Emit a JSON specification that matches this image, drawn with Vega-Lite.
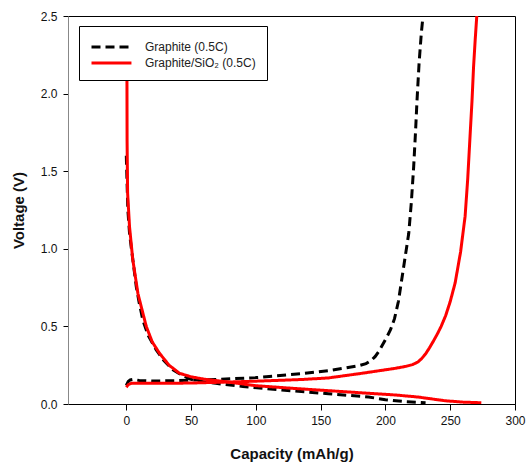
{
  "$schema": "https://vega.github.io/schema/vega-lite/v6.json",
  "autosize": "none",
  "width": 447,
  "height": 388,
  "padding": {"left": 68, "top": 16, "right": 17, "bottom": 68},
  "background": "white",
  "config": {
    "font": "Liberation Sans",
    "view": {"stroke": "black", "strokeWidth": 1},
    "axis": {"grid": false, "labelFlush": false, "labelFont": "Liberation Sans", "labelFontSize": 12, "labelColor": "#111", "titleFont": "Liberation Sans", "titleFontSize": 15, "titleFontWeight": "bold", "titleColor": "#111", "tickColor": "black", "domainColor": "black"}
  },
  "data": {
    "values": [
      {"s": "Graphite (0.5C)", "seg": "d", "i": 0, "cap": 0, "v": 1.6},
      {"s": "Graphite (0.5C)", "seg": "d", "i": 1, "cap": 0.5, "v": 1.45},
      {"s": "Graphite (0.5C)", "seg": "d", "i": 2, "cap": 1.2, "v": 1.25},
      {"s": "Graphite (0.5C)", "seg": "d", "i": 3, "cap": 2.5, "v": 1.1},
      {"s": "Graphite (0.5C)", "seg": "d", "i": 4, "cap": 3.8, "v": 1.01},
      {"s": "Graphite (0.5C)", "seg": "d", "i": 5, "cap": 5.5, "v": 0.9},
      {"s": "Graphite (0.5C)", "seg": "d", "i": 6, "cap": 7.7, "v": 0.756},
      {"s": "Graphite (0.5C)", "seg": "d", "i": 7, "cap": 10, "v": 0.65},
      {"s": "Graphite (0.5C)", "seg": "d", "i": 8, "cap": 12.8, "v": 0.54},
      {"s": "Graphite (0.5C)", "seg": "d", "i": 9, "cap": 17, "v": 0.44},
      {"s": "Graphite (0.5C)", "seg": "d", "i": 10, "cap": 23, "v": 0.35},
      {"s": "Graphite (0.5C)", "seg": "d", "i": 11, "cap": 29, "v": 0.28},
      {"s": "Graphite (0.5C)", "seg": "d", "i": 12, "cap": 36, "v": 0.22},
      {"s": "Graphite (0.5C)", "seg": "d", "i": 13, "cap": 42, "v": 0.19},
      {"s": "Graphite (0.5C)", "seg": "d", "i": 14, "cap": 48.7, "v": 0.162},
      {"s": "Graphite (0.5C)", "seg": "d", "i": 15, "cap": 55, "v": 0.148},
      {"s": "Graphite (0.5C)", "seg": "d", "i": 16, "cap": 69, "v": 0.133},
      {"s": "Graphite (0.5C)", "seg": "d", "i": 17, "cap": 90, "v": 0.113},
      {"s": "Graphite (0.5C)", "seg": "d", "i": 18, "cap": 120, "v": 0.09},
      {"s": "Graphite (0.5C)", "seg": "d", "i": 19, "cap": 156, "v": 0.066},
      {"s": "Graphite (0.5C)", "seg": "d", "i": 20, "cap": 187, "v": 0.045},
      {"s": "Graphite (0.5C)", "seg": "d", "i": 21, "cap": 200, "v": 0.028},
      {"s": "Graphite (0.5C)", "seg": "d", "i": 22, "cap": 215, "v": 0.015},
      {"s": "Graphite (0.5C)", "seg": "d", "i": 23, "cap": 231, "v": 0.008},
      {"s": "Graphite (0.5C)", "seg": "c", "i": 0, "cap": 0, "v": 0.12},
      {"s": "Graphite (0.5C)", "seg": "c", "i": 1, "cap": 1.5, "v": 0.145},
      {"s": "Graphite (0.5C)", "seg": "c", "i": 2, "cap": 3, "v": 0.155},
      {"s": "Graphite (0.5C)", "seg": "c", "i": 3, "cap": 5, "v": 0.158},
      {"s": "Graphite (0.5C)", "seg": "c", "i": 4, "cap": 10, "v": 0.152},
      {"s": "Graphite (0.5C)", "seg": "c", "i": 5, "cap": 20, "v": 0.148},
      {"s": "Graphite (0.5C)", "seg": "c", "i": 6, "cap": 38, "v": 0.15},
      {"s": "Graphite (0.5C)", "seg": "c", "i": 7, "cap": 55, "v": 0.155},
      {"s": "Graphite (0.5C)", "seg": "c", "i": 8, "cap": 72, "v": 0.159},
      {"s": "Graphite (0.5C)", "seg": "c", "i": 9, "cap": 100, "v": 0.17},
      {"s": "Graphite (0.5C)", "seg": "c", "i": 10, "cap": 136, "v": 0.196},
      {"s": "Graphite (0.5C)", "seg": "c", "i": 11, "cap": 156, "v": 0.215},
      {"s": "Graphite (0.5C)", "seg": "c", "i": 12, "cap": 170, "v": 0.233},
      {"s": "Graphite (0.5C)", "seg": "c", "i": 13, "cap": 180, "v": 0.248},
      {"s": "Graphite (0.5C)", "seg": "c", "i": 14, "cap": 185, "v": 0.26},
      {"s": "Graphite (0.5C)", "seg": "c", "i": 15, "cap": 189, "v": 0.28},
      {"s": "Graphite (0.5C)", "seg": "c", "i": 16, "cap": 192, "v": 0.305},
      {"s": "Graphite (0.5C)", "seg": "c", "i": 17, "cap": 195, "v": 0.34},
      {"s": "Graphite (0.5C)", "seg": "c", "i": 18, "cap": 198, "v": 0.385},
      {"s": "Graphite (0.5C)", "seg": "c", "i": 19, "cap": 201, "v": 0.43},
      {"s": "Graphite (0.5C)", "seg": "c", "i": 20, "cap": 204, "v": 0.48},
      {"s": "Graphite (0.5C)", "seg": "c", "i": 21, "cap": 207, "v": 0.55},
      {"s": "Graphite (0.5C)", "seg": "c", "i": 22, "cap": 210, "v": 0.66},
      {"s": "Graphite (0.5C)", "seg": "c", "i": 23, "cap": 214, "v": 0.88},
      {"s": "Graphite (0.5C)", "seg": "c", "i": 24, "cap": 218, "v": 1.1},
      {"s": "Graphite (0.5C)", "seg": "c", "i": 25, "cap": 220, "v": 1.3},
      {"s": "Graphite (0.5C)", "seg": "c", "i": 26, "cap": 221.8, "v": 1.53},
      {"s": "Graphite (0.5C)", "seg": "c", "i": 27, "cap": 223.2, "v": 1.75},
      {"s": "Graphite (0.5C)", "seg": "c", "i": 28, "cap": 224.4, "v": 1.96},
      {"s": "Graphite (0.5C)", "seg": "c", "i": 29, "cap": 226, "v": 2.2},
      {"s": "Graphite (0.5C)", "seg": "c", "i": 30, "cap": 227.7, "v": 2.39},
      {"s": "Graphite (0.5C)", "seg": "c", "i": 31, "cap": 229, "v": 2.5},
      {"s": "Graphite/SiO₂ (0.5C)", "seg": "d", "i": 0, "cap": 0.5, "v": 2.1},
      {"s": "Graphite/SiO₂ (0.5C)", "seg": "d", "i": 1, "cap": 0.6, "v": 1.7},
      {"s": "Graphite/SiO₂ (0.5C)", "seg": "d", "i": 2, "cap": 1.0, "v": 1.36},
      {"s": "Graphite/SiO₂ (0.5C)", "seg": "d", "i": 3, "cap": 2.5, "v": 1.14},
      {"s": "Graphite/SiO₂ (0.5C)", "seg": "d", "i": 4, "cap": 5, "v": 0.93},
      {"s": "Graphite/SiO₂ (0.5C)", "seg": "d", "i": 5, "cap": 9, "v": 0.71},
      {"s": "Graphite/SiO₂ (0.5C)", "seg": "d", "i": 6, "cap": 15.4, "v": 0.5},
      {"s": "Graphite/SiO₂ (0.5C)", "seg": "d", "i": 7, "cap": 20, "v": 0.4},
      {"s": "Graphite/SiO₂ (0.5C)", "seg": "d", "i": 8, "cap": 25.6, "v": 0.327},
      {"s": "Graphite/SiO₂ (0.5C)", "seg": "d", "i": 9, "cap": 33, "v": 0.25},
      {"s": "Graphite/SiO₂ (0.5C)", "seg": "d", "i": 10, "cap": 41, "v": 0.198},
      {"s": "Graphite/SiO₂ (0.5C)", "seg": "d", "i": 11, "cap": 50, "v": 0.175},
      {"s": "Graphite/SiO₂ (0.5C)", "seg": "d", "i": 12, "cap": 60, "v": 0.16},
      {"s": "Graphite/SiO₂ (0.5C)", "seg": "d", "i": 13, "cap": 75, "v": 0.145},
      {"s": "Graphite/SiO₂ (0.5C)", "seg": "d", "i": 14, "cap": 100, "v": 0.118},
      {"s": "Graphite/SiO₂ (0.5C)", "seg": "d", "i": 15, "cap": 130, "v": 0.1},
      {"s": "Graphite/SiO₂ (0.5C)", "seg": "d", "i": 16, "cap": 156, "v": 0.086},
      {"s": "Graphite/SiO₂ (0.5C)", "seg": "d", "i": 17, "cap": 187, "v": 0.069},
      {"s": "Graphite/SiO₂ (0.5C)", "seg": "d", "i": 18, "cap": 207.7, "v": 0.058},
      {"s": "Graphite/SiO₂ (0.5C)", "seg": "d", "i": 19, "cap": 225, "v": 0.045},
      {"s": "Graphite/SiO₂ (0.5C)", "seg": "d", "i": 20, "cap": 246, "v": 0.021},
      {"s": "Graphite/SiO₂ (0.5C)", "seg": "d", "i": 21, "cap": 260, "v": 0.012},
      {"s": "Graphite/SiO₂ (0.5C)", "seg": "d", "i": 22, "cap": 274, "v": 0.008},
      {"s": "Graphite/SiO₂ (0.5C)", "seg": "c", "i": 0, "cap": 0, "v": 0.108},
      {"s": "Graphite/SiO₂ (0.5C)", "seg": "c", "i": 1, "cap": 1.5, "v": 0.125},
      {"s": "Graphite/SiO₂ (0.5C)", "seg": "c", "i": 2, "cap": 3.8, "v": 0.133},
      {"s": "Graphite/SiO₂ (0.5C)", "seg": "c", "i": 3, "cap": 10, "v": 0.133},
      {"s": "Graphite/SiO₂ (0.5C)", "seg": "c", "i": 4, "cap": 25, "v": 0.133},
      {"s": "Graphite/SiO₂ (0.5C)", "seg": "c", "i": 5, "cap": 50, "v": 0.135},
      {"s": "Graphite/SiO₂ (0.5C)", "seg": "c", "i": 6, "cap": 72, "v": 0.14},
      {"s": "Graphite/SiO₂ (0.5C)", "seg": "c", "i": 7, "cap": 100, "v": 0.147},
      {"s": "Graphite/SiO₂ (0.5C)", "seg": "c", "i": 8, "cap": 136, "v": 0.158},
      {"s": "Graphite/SiO₂ (0.5C)", "seg": "c", "i": 9, "cap": 156, "v": 0.168},
      {"s": "Graphite/SiO₂ (0.5C)", "seg": "c", "i": 10, "cap": 182, "v": 0.198},
      {"s": "Graphite/SiO₂ (0.5C)", "seg": "c", "i": 11, "cap": 207.7, "v": 0.23},
      {"s": "Graphite/SiO₂ (0.5C)", "seg": "c", "i": 12, "cap": 216, "v": 0.243},
      {"s": "Graphite/SiO₂ (0.5C)", "seg": "c", "i": 13, "cap": 221, "v": 0.254},
      {"s": "Graphite/SiO₂ (0.5C)", "seg": "c", "i": 14, "cap": 225, "v": 0.27},
      {"s": "Graphite/SiO₂ (0.5C)", "seg": "c", "i": 15, "cap": 228, "v": 0.293},
      {"s": "Graphite/SiO₂ (0.5C)", "seg": "c", "i": 16, "cap": 231, "v": 0.323},
      {"s": "Graphite/SiO₂ (0.5C)", "seg": "c", "i": 17, "cap": 234, "v": 0.362},
      {"s": "Graphite/SiO₂ (0.5C)", "seg": "c", "i": 18, "cap": 237, "v": 0.405},
      {"s": "Graphite/SiO₂ (0.5C)", "seg": "c", "i": 19, "cap": 240, "v": 0.45},
      {"s": "Graphite/SiO₂ (0.5C)", "seg": "c", "i": 20, "cap": 243, "v": 0.5},
      {"s": "Graphite/SiO₂ (0.5C)", "seg": "c", "i": 21, "cap": 246.5, "v": 0.57},
      {"s": "Graphite/SiO₂ (0.5C)", "seg": "c", "i": 22, "cap": 250, "v": 0.66},
      {"s": "Graphite/SiO₂ (0.5C)", "seg": "c", "i": 23, "cap": 253.8, "v": 0.78},
      {"s": "Graphite/SiO₂ (0.5C)", "seg": "c", "i": 24, "cap": 258, "v": 0.98},
      {"s": "Graphite/SiO₂ (0.5C)", "seg": "c", "i": 25, "cap": 261.5, "v": 1.21},
      {"s": "Graphite/SiO₂ (0.5C)", "seg": "c", "i": 26, "cap": 263.5, "v": 1.45},
      {"s": "Graphite/SiO₂ (0.5C)", "seg": "c", "i": 27, "cap": 265.4, "v": 1.74},
      {"s": "Graphite/SiO₂ (0.5C)", "seg": "c", "i": 28, "cap": 266.8, "v": 1.95},
      {"s": "Graphite/SiO₂ (0.5C)", "seg": "c", "i": 29, "cap": 268, "v": 2.17},
      {"s": "Graphite/SiO₂ (0.5C)", "seg": "c", "i": 30, "cap": 269.3, "v": 2.35},
      {"s": "Graphite/SiO₂ (0.5C)", "seg": "c", "i": 31, "cap": 270.5, "v": 2.5}
    ]
  },
  "mark": {"type": "line", "strokeWidth": 3, "clip": true, "strokeCap": "butt"},
  "encoding": {
    "x": {"field": "cap", "type": "quantitative", "title": "Capacity (mAh/g)",
      "scale": {"domain": [-45, 300], "nice": false, "zero": false},
      "axis": {"values": [0, 50, 100, 150, 200, 250, 300], "tickSize": 6, "labelPadding": 5, "titlePadding": 20, "labelFlush": false}},
    "y": {"field": "v", "type": "quantitative", "title": "Voltage (V)",
      "scale": {"domain": [0, 2.5], "nice": false},
      "axis": {"values": [0, 0.5, 1, 1.5, 2, 2.5], "format": ".1f", "tickSize": 5, "labelPadding": 6, "domainColor": "#888", "titlePadding": 14, "labelFlush": false}},
    "color": {"field": "s", "type": "nominal", "title": null,
      "scale": {"domain": ["Graphite (0.5C)", "Graphite/SiO₂ (0.5C)"], "range": ["black", "#ff0000"]},
      "legend": {"orient": "none", "legendX": 11, "legendY": 10, "fillColor": "white", "strokeColor": "black", "padding": 11,
        "symbolType": "M-1,0H3.7", "symbolSize": 289, "symbolStrokeWidth": 3, "labelOffset": 35, "rowPadding": 0,
        "labelFontSize": 12, "labelFont": "Liberation Sans", "labelColor": "#222"}},
    "strokeDash": {"field": "s", "type": "nominal", "title": null,
      "scale": {"domain": ["Graphite (0.5C)", "Graphite/SiO₂ (0.5C)"], "range": [[9, 5], [1, 0]]}},
    "detail": {"field": "seg"},
    "order": {"field": "i", "type": "quantitative"}
  }
}
